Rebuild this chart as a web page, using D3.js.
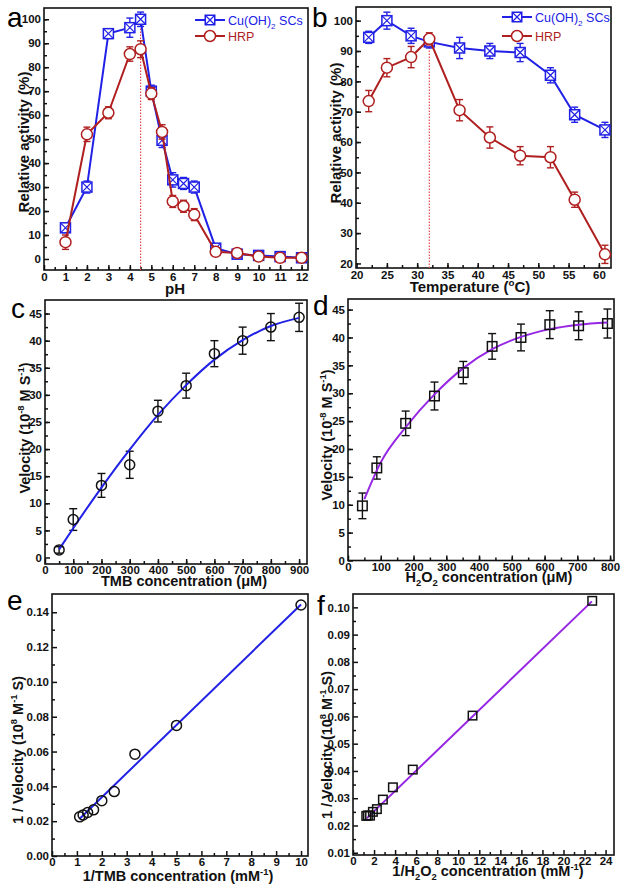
<!DOCTYPE html>
<html>
<head>
<meta charset="utf-8">
<script src="https://cdn.jsdelivr.net/npm/d3@7"></script>
<style>
  body { margin: 0; background: #fff; }
  text { font-family: "Liberation Sans", Arial, sans-serif; }
  .tick text { font-size: 11.5px; font-weight: bold; fill: #111; }
  .tick line { stroke: #111; stroke-width: 1.5; }
  .title { font-weight: bold; fill: #111; }
</style>
</head>
<body>
<svg id="fig" width="624" height="891"></svg>
<script>
// ---- data ----
var pH = [1, 2, 3, 4, 4.5, 5, 5.5, 6, 6.5, 7, 8, 9, 10, 11, 12];
var pHCu = [13, 30, 94, 96.5, 100, 70, 49.5, 33, 31.5, 30, 4.5, 2, 1.5, 1, 0.5];
var pHCuErr = [2, 2.5, 2, 4, 3, 2.5, 3, 3, 2.5, 2.5, 1.5, 1.5, 1.5, 1.5, 1.5];
var pHHrp = [7, 52, 61, 85.5, 87.5, 69, 53, 24, 22, 18.5, 3, 2.5, 1, 0.5, 0.5];
var pHHrpErr = [3, 3, 2.5, 3, 3.5, 2.5, 3, 2.5, 2.5, 2.5, 1, 1, 1, 1, 1];

var temp = [22, 25, 29, 32, 37, 42, 47, 52, 56, 61];
var tCu = [94.5, 100, 95, 93, 91, 90, 89.5, 82, 69, 64];
var tCuErr = [2, 2.8, 2.5, 2, 3.5, 2.5, 3, 2.5, 2.5, 2.5];
var tHrp = [73.5, 84.5, 88, 94, 70.5, 61.5, 55.5, 55, 41, 23];
var tHrpErr = [3.5, 3, 3.5, 2, 3.5, 3.5, 3, 3.5, 2.5, 3];

var tmbConc = [50, 100, 200, 300, 400, 500, 600, 700, 800, 900];
var tmbVel = [1.4, 7, 13.3, 17.1, 27, 31.7, 37.6, 40, 42.5, 44.3];
var tmbErr = [0.6, 2, 2.2, 2.5, 2, 2.3, 2.4, 2.5, 2.5, 2.6];
var tmbFitX = [50, 100, 200, 300, 400, 500, 600, 700, 800, 900];
var tmbFitY = [1.5, 5.4, 12.9, 19.9, 26.3, 31.8, 36.5, 40.1, 42.7, 44.2];

var h2o2Conc = [44, 88, 176, 264, 352, 440, 528, 616, 704, 792];
var h2o2Vel = [9.8, 16.6, 24.6, 29.5, 33.7, 38.4, 40, 42.3, 42.1, 42.5];
var h2o2Err = [2.3, 2, 2.2, 2.5, 2, 2.3, 2.4, 2.5, 2.5, 2.6];
var h2o2FitX = [50, 100, 176, 264, 352, 440, 528, 616, 704, 792];
var h2o2FitY = [11, 17.6, 23.9, 29.8, 34.5, 37.9, 40.1, 41.5, 42.3, 42.7];

var invTmb = [1.11, 1.25, 1.43, 1.67, 2, 2.5, 3.33, 5, 10];
var invTmbVel = [0.0225, 0.0236, 0.025, 0.0265, 0.0318, 0.037, 0.0585, 0.075, 0.1442];
var invTmbFitX = [1.1, 10];
var invTmbFitY = [0.0213, 0.1445];

var invH2o2 = [1.26, 1.42, 1.62, 1.89, 2.27, 2.84, 3.79, 5.68, 11.36, 22.73];
var invH2o2Vel = [0.0235, 0.0237, 0.0236, 0.025, 0.026, 0.0295, 0.034, 0.0405, 0.0603, 0.1024];
var invH2o2FitX = [1.3, 22.7];
var invH2o2FitY = [0.0226, 0.1022];

// tick labels
var pHTicks = [0, 1, 2, 3, 4, 5, 6, 7, 8, 9, 10, 11, 12];
var actTicks = [0, 10, 20, 30, 40, 50, 60, 70, 80, 90, 100];
var tempTicks = [20, 25, 30, 35, 40, 45, 50, 55, 60];
var tActTicks = [20, 30, 40, 50, 60, 70, 80, 90, 100];
var tmbTicks = [0, 100, 200, 300, 400, 500, 600, 700, 800, 900];
var velTicks = [0, 5, 10, 15, 20, 25, 30, 35, 40, 45];
var h2o2Ticks = [0, 100, 200, 300, 400, 500, 600, 700, 800];
var invTmbTicks = [0, 1, 2, 3, 4, 5, 6, 7, 8, 9, 10];
var invVelTicksE = [0, 0.02, 0.04, 0.06, 0.08, 0.10, 0.12, 0.14];
var invH2o2Ticks = [0, 2, 4, 6, 8, 10, 12, 14, 16, 18, 20, 22, 24];
var invVelTicksF = [0.01, 0.02, 0.03, 0.04, 0.05, 0.06, 0.07, 0.08, 0.09, 0.10];

var BLUE = "#2020e6", RED = "#b01f1f", PURPLE = "#9626e4", DOT = "#e54848";

var svg = d3.select("#fig");

// text with sub/superscripts
function rich(text, parts, fs) {
  var shift = 0;
  parts.forEach(function(p) {
    var m = p[1];
    var target = m == "sup" ? -fs * 0.4 : (m == "sub" ? fs * 0.3 : 0);
    text.append("tspan")
        .attr("dy", target - shift)
        .style("font-size", (m ? fs * 0.65 : fs) + "px")
        .text(p[0]);
    shift = target;
  });
  return text;
}

var panel = function(c) {
  var g = svg.append("g");
  var x = d3.scaleLinear().domain(c.xd).range([c.l, c.r]);
  var y = d3.scaleLinear().domain(c.yd).range([c.b, c.t]);

  g.append("g").attr("transform", "translate(0," + c.b + ")")
   .call(d3.axisBottom(x).tickValues(c.xMinor).tickSizeInner(-3).tickSizeOuter(0).tickFormat(""));
  g.append("g").attr("transform", "translate(" + c.l + ",0)")
   .call(d3.axisLeft(y).tickValues(c.yMinor).tickSizeInner(-3).tickSizeOuter(0).tickFormat(""));
  g.append("g").attr("transform", "translate(0," + c.b + ")")
   .call(d3.axisBottom(x).tickValues(c.xTicks).tickSizeInner(-5).tickSizeOuter(0).tickPadding(c.xPad).tickFormat(c.xFmt || d3.format("d")));
  g.append("g").attr("transform", "translate(" + c.l + ",0)")
   .call(d3.axisLeft(y).tickValues(c.yTicks).tickSizeInner(-5).tickSizeOuter(0).tickPadding(3).tickFormat(c.yFmt || d3.format("d")));
  g.selectAll(".domain").remove();

  g.append("rect")
   .attr("x", c.l).attr("y", c.t)
   .attr("width", c.r - c.l).attr("height", c.b - c.t)
   .attr("fill", "none").attr("stroke", "#111").attr("stroke-width", 1.6);

  // panel letter
  svg.append("text").attr("x", c.lx).attr("y", c.ly)
     .style("font-size", "28px").text(c.letter);

  // axis titles
  rich(svg.append("text").attr("class", "title")
          .attr("x", c.xtx).attr("y", c.xty).attr("text-anchor", "middle"), c.xTitle, c.fs);
  rich(svg.append("text").attr("class", "title").attr("text-anchor", "middle")
          .attr("transform", "translate(" + c.ytx + "," + c.yty + ") rotate(-90)"), c.yTitle, c.fs);

  return { g: g, x: x, y: y };
};

function errBars(p, xs, ys, es, color, cap) {
  var eb = p.g.append("g").attr("stroke", color).attr("stroke-width", 1.4);
  xs.forEach(function(d, i) {
    var cx = p.x(d), lo = p.y(ys[i] - es[i]), hi = p.y(ys[i] + es[i]);
    eb.append("line").attr("x1", cx).attr("x2", cx).attr("y1", lo).attr("y2", hi);
    eb.append("line").attr("x1", cx - cap).attr("x2", cx + cap).attr("y1", lo).attr("y2", lo);
    eb.append("line").attr("x1", cx - cap).attr("x2", cx + cap).attr("y1", hi).attr("y2", hi);
  });
}

function polyline(p, xs, ys, color, w, smooth) {
  var line = d3.line()
      .x(function(d) { return p.x(d[0]); })
      .y(function(d) { return p.y(d[1]); });
  if (smooth) line.curve(d3.curveMonotoneX);
  p.g.append("path").datum(xs.map(function(d, i) { return [d, ys[i]]; }))
     .attr("d", line).attr("fill", "none").attr("stroke", color).attr("stroke-width", w);
}

function crossSquare(g, cx, cy, s, color) {
  g.append("rect").attr("x", cx - s / 2).attr("y", cy - s / 2).attr("width", s).attr("height", s)
   .attr("fill", "#fff").attr("stroke", color).attr("stroke-width", 1.5);
  g.append("path").attr("d", "M" + (cx - s / 2) + "," + (cy - s / 2) + "L" + (cx + s / 2) + "," + (cy + s / 2) +
                              "M" + (cx + s / 2) + "," + (cy - s / 2) + "L" + (cx - s / 2) + "," + (cy + s / 2))
   .attr("stroke", color).attr("stroke-width", 1.2);
}

function circles(p, xs, ys, r, color, fill) {
  p.g.append("g").selectAll("circle").data(xs).enter().append("circle")
     .attr("cx", function(d) { return p.x(d); })
     .attr("cy", function(d, i) { return p.y(ys[i]); })
     .attr("r", r).attr("fill", fill).attr("stroke", color).attr("stroke-width", 1.5);
}

function squares(p, xs, ys, s, color) {
  p.g.append("g").selectAll("rect").data(xs).enter().append("rect")
     .attr("x", function(d) { return p.x(d) - s / 2; })
     .attr("y", function(d, i) { return p.y(ys[i]) - s / 2; })
     .attr("width", s).attr("height", s)
     .attr("fill", "none").attr("stroke", color).attr("stroke-width", 1.5);
}

function legend(lx, y1, y2) {
  var g = svg.append("g");
  g.append("line").attr("x1", lx).attr("x2", lx + 30).attr("y1", y1).attr("y2", y1)
   .attr("stroke", BLUE).attr("stroke-width", 2);
  crossSquare(g, lx + 15, y1, 9.5, BLUE);
  rich(g.append("text").attr("x", lx + 33).attr("y", y1 + 5).attr("fill", BLUE),
       [["Cu(OH)"], ["2", "sub"], [" SCs"]], 12.5);
  g.append("line").attr("x1", lx).attr("x2", lx + 30).attr("y1", y2).attr("y2", y2)
   .attr("stroke", RED).attr("stroke-width", 2);
  g.append("circle").attr("cx", lx + 15).attr("cy", y2).attr("r", 5.5)
   .attr("fill", "#fff").attr("stroke", RED).attr("stroke-width", 1.5);
  g.append("text").attr("x", lx + 33).attr("y", y2 + 5).attr("fill", RED)
   .style("font-size", "12.5px").text("HRP");
}

var velTitle = [["Velocity (10"], ["-8", "sup"], [" M S"], ["-1", "sup"], [")"]];
var invVelTitle = [["1 / Velocity (10"], ["8", "sup"], [" M"], ["-1", "sup"], [" S)"]];

// ---- a: pH ----
var pa = panel({
  l: 44, r: 308, t: 8, b: 270, xd: [0, 12.3], yd: [-4.6, 104.7],
  xTicks: pHTicks, yTicks: actTicks, xPad: 3, fs: 15,
  xMinor: d3.range(0.5, 12.3, 0.5), yMinor: d3.range(5, 104, 5),
  letter: "a", lx: 7, ly: 27,
  xTitle: [["pH"]], xtx: 175, xty: 294,
  yTitle: [["Relative activity (%)"]], ytx: 29, yty: 142
});
pa.g.append("line").attr("x1", pa.x(4.5)).attr("x2", pa.x(4.5))
    .attr("y1", 270).attr("y2", pa.y(100))
    .attr("stroke", DOT).attr("stroke-width", 1.2).attr("stroke-dasharray", "1.5,1.5");
polyline(pa, pH, pHCu, BLUE, 2, false);
errBars(pa, pH, pHCu, pHCuErr, BLUE, 3.5);
pH.forEach(function(d, i) { crossSquare(pa.g, pa.x(d), pa.y(pHCu[i]), 10, BLUE); });
polyline(pa, pH, pHHrp, RED, 2, false);
errBars(pa, pH, pHHrp, pHHrpErr, RED, 3.5);
circles(pa, pH, pHHrp, 5.5, RED, "#fff");
legend(195, 20, 36);

// ---- b: temperature ----
var pb = panel({
  l: 356, r: 611, t: 7, b: 268, xd: [19.9, 62], yd: [18.5, 104.5],
  xTicks: tempTicks, yTicks: tActTicks, xPad: 3, fs: 15,
  xMinor: d3.range(22.5, 62, 2.5), yMinor: d3.range(25, 104, 5),
  letter: "b", lx: 312, ly: 27,
  xTitle: [["Temperature ("], ["o", "sup"], ["C)"]], xtx: 470, xty: 292,
  yTitle: [["Relative activity (%)"]], ytx: 341, yty: 133
});
pb.g.append("line").attr("x1", pb.x(32)).attr("x2", pb.x(32))
    .attr("y1", 268).attr("y2", pb.y(94))
    .attr("stroke", DOT).attr("stroke-width", 1.2).attr("stroke-dasharray", "1.5,1.5");
polyline(pb, temp, tCu, BLUE, 2, false);
errBars(pb, temp, tCu, tCuErr, BLUE, 3.5);
temp.forEach(function(d, i) { crossSquare(pb.g, pb.x(d), pb.y(tCu[i]), 10, BLUE); });
polyline(pb, temp, tHrp, RED, 2, false);
errBars(pb, temp, tHrp, tHrpErr, RED, 3.5);
circles(pb, temp, tHrp, 5.5, RED, "#fff");
legend(502, 17, 36);

// ---- c: TMB Michaelis-Menten ----
var pc = panel({
  l: 45, r: 307, t: 300, b: 564, xd: [0, 928], yd: [-1.2, 47.5],
  xTicks: tmbTicks, yTicks: velTicks, xPad: 2, fs: 14.5,
  xMinor: d3.range(50, 928, 50), yMinor: d3.range(2.5, 47, 2.5),
  letter: "c", lx: 11, ly: 318,
  xTitle: [["TMB concentration (\u03bcM)"]], xtx: 184, xty: 586,
  yTitle: velTitle, ytx: 30, yty: 428
});
errBars(pc, tmbConc, tmbVel, tmbErr, "#111", 4);
polyline(pc, tmbFitX, tmbFitY, BLUE, 2, true);
circles(pc, tmbConc, tmbVel, 5, "#111", "none");

// ---- d: H2O2 Michaelis-Menten ----
var pd = panel({
  l: 348, r: 614, t: 299, b: 560.5, xd: [0, 812], yd: [0, 46.9],
  xTicks: h2o2Ticks, yTicks: velTicks, xPad: 2, fs: 14.5,
  xMinor: d3.range(50, 812, 50), yMinor: d3.range(2.5, 46, 2.5),
  letter: "d", lx: 313, ly: 315,
  xTitle: [["H"], ["2", "sub"], ["O"], ["2", "sub"], [" concentration (\u03bcM)"]], xtx: 489, xty: 582,
  yTitle: velTitle, ytx: 332, yty: 435
});
errBars(pd, h2o2Conc, h2o2Vel, h2o2Err, "#111", 4);
polyline(pd, h2o2FitX, h2o2FitY, PURPLE, 2, true);
squares(pd, h2o2Conc, h2o2Vel, 9.5, "#111");

// ---- e: Lineweaver-Burk TMB ----
var pe = panel({
  l: 52, r: 308, t: 594, b: 856, xd: [0, 10.28], yd: [0, 0.1505],
  xTicks: invTmbTicks, yTicks: invVelTicksE, xPad: 2, fs: 14.5,
  xMinor: d3.range(0.5, 10.2, 1), yMinor: d3.range(0.01, 0.15, 0.02),
  xFmt: d3.format("d"), yFmt: d3.format(".2f"),
  letter: "e", lx: 7, ly: 610,
  xTitle: [["1/TMB concentration (mM"], ["-1", "sup"], [")"]], xtx: 178, xty: 881,
  yTitle: invVelTitle, ytx: 23, yty: 750
});
polyline(pe, invTmbFitX, invTmbFitY, BLUE, 2, false);
circles(pe, invTmb, invTmbVel, 5, "#111", "none");

// ---- f: Lineweaver-Burk H2O2 ----
var pf = panel({
  l: 353, r: 614, t: 594, b: 855, xd: [0, 24.8], yd: [0.00917, 0.1049],
  xTicks: invH2o2Ticks, yTicks: invVelTicksF, xPad: 2, fs: 14.5,
  xMinor: d3.range(1, 24.8, 2), yMinor: d3.range(0.015, 0.104, 0.01),
  xFmt: d3.format("d"), yFmt: d3.format(".2f"),
  letter: "f", lx: 317, ly: 615,
  xTitle: [["1/H"], ["2", "sub"], ["O"], ["2", "sub"], [" concentration (mM"], ["-1", "sup"], [")"]], xtx: 488, xty: 876,
  yTitle: invVelTitle, ytx: 332, yty: 745
});
polyline(pf, invH2o2FitX, invH2o2FitY, PURPLE, 2, false);
squares(pf, invH2o2, invH2o2Vel, 8.5, "#111");
</script>
</body>
</html>
